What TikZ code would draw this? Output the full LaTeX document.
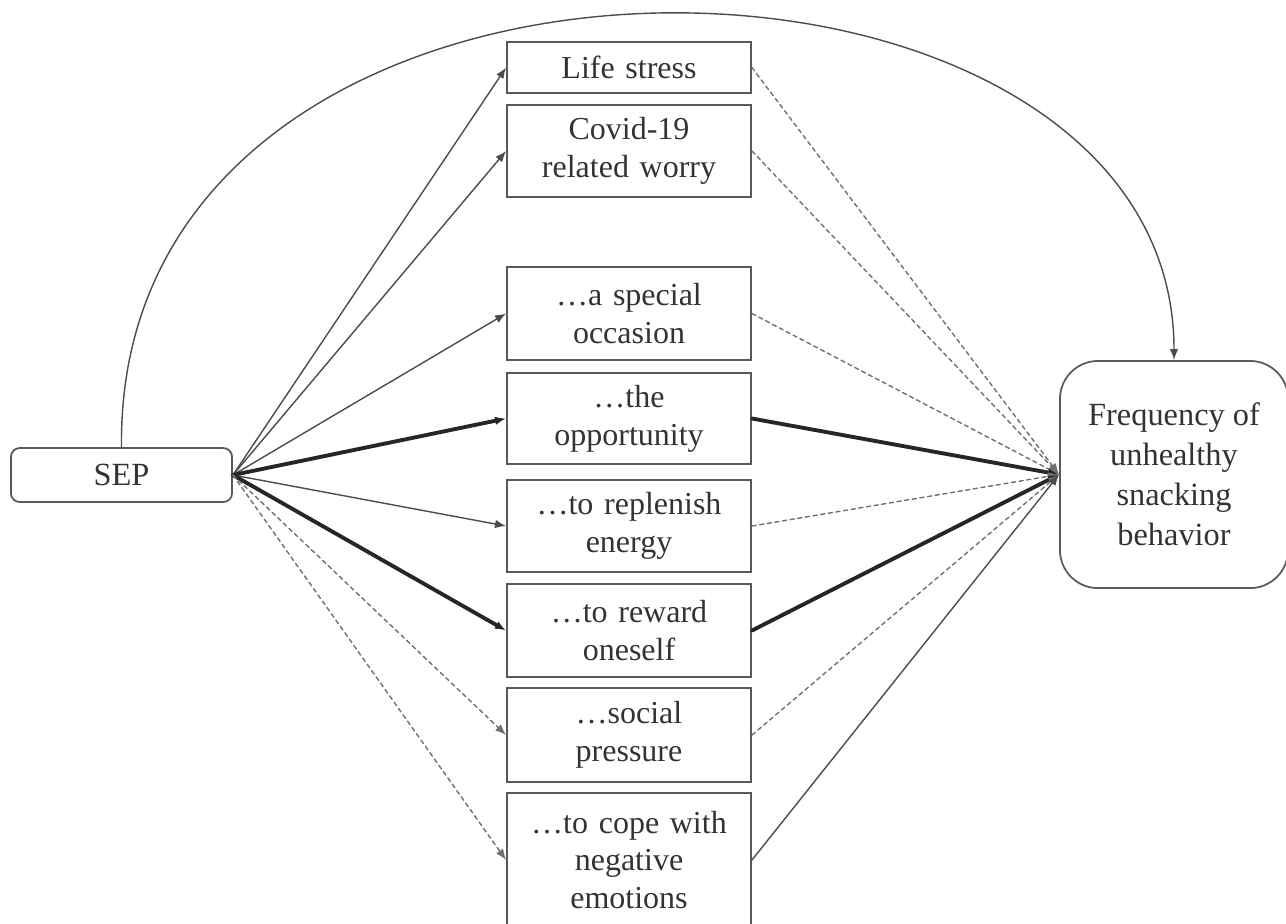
\documentclass[tikz,border=0pt]{standalone}
\usepackage{fontspec}
\setmainfont{Liberation Serif}
\usetikzlibrary{arrows.meta}

\begin{document}
\begin{tikzpicture}
			[x=0.01cm,y=-0.01cm,line cap=round,
			%Styles
			>={Latex[length=1.1mm,width=0.85mm]},
			factor box/.style={draw=boxgray,line width=0.5pt,text width=2.3cm,align=center,
				minimum width=2.44cm,inner sep=0pt,text=textgray,
				font=\fontsize{9.1}{10.8}\selectfont},
			end box/.style={draw=boxgray,line width=0.5pt,rounded corners=#1,align=center,
				inner sep=0pt,text=textgray,font=\fontsize{9.2}{11.4}\selectfont},
			thin path/.style={->,draw=linegray,line width=0.4pt},
			strong path/.style={->,draw=black!85,line width=1.1pt},
			weak path/.style={->,draw=linegray!80,line width=0.4pt,dash pattern=on 1.2pt off 1pt}
			]
			
			%Colors
			\colorlet{boxgray}{black!65}	%box borders
			\colorlet{linegray}{black!70}	%thin connectors
			\colorlet{textgray}{black!80}
			
			\useasboundingbox (0,0) rectangle (1286,923);
			
			%The graphic
			\node[end box=2.5pt,minimum width=2.21cm,minimum height=0.54cm] (sep) at (121.5,475) {SEP};
			\node[end box=0.38cm,minimum width=2.28cm,minimum height=2.27cm] (freq) at (1174,474.5)
				{Frequency of\\unhealthy\\snacking\\behavior};
			
			\node[factor box,minimum height=0.51cm] (ls) at (629,67.5) {Life stress};
			\node[factor box,minimum height=0.92cm] (cov) at (629,151) {Covid-19\\related worry};
			\node[factor box,minimum height=0.93cm] (spec) at (629,313.5) {…a special\\occasion};
			\node[factor box,minimum height=0.91cm] (opp) at (629,418.5) {…the\\opportunity};
			\node[factor box,minimum height=0.92cm] (rep) at (629,526) {…to replenish\\energy};
			\node[factor box,minimum height=0.93cm] (rew) at (629,630.5) {…to reward\\oneself};
			\node[factor box,minimum height=0.94cm] (soc) at (629,735) {…social\\pressure};
			\node[factor box,minimum height=1.34cm] (cope) at (629,860) {…to cope with\\negative\\emotions};
			
			\path	(sep.east)	edge[thin path] (ls.west)
							edge[thin path] (cov.west)
							edge[thin path] (spec.west)
							edge[strong path] (opp.west)
							edge[thin path] (rep.west)
							edge[strong path] (rew.west)
							edge[weak path] (soc.west)
							edge[weak path] (cope.west);
			
			\path	(ls.east) edge[weak path] (freq.west);
			\path	(cov.east) edge[weak path] (freq.west);
			\path	(spec.east) edge[weak path] (freq.west);
			\path	(opp.east) edge[strong path] (freq.west);
			\path	(rep.east) edge[weak path] (freq.west);
			\path	(rew.east) edge[strong path] (freq.west);
			\path	(soc.east) edge[weak path] (freq.west);
			\path	(cope.east) edge[thin path] (freq.west);
			
			\draw[thin path] (sep.north) .. controls (115,-125) and (1174,-105) .. (freq.north);
		\end{tikzpicture}
\end{document}
